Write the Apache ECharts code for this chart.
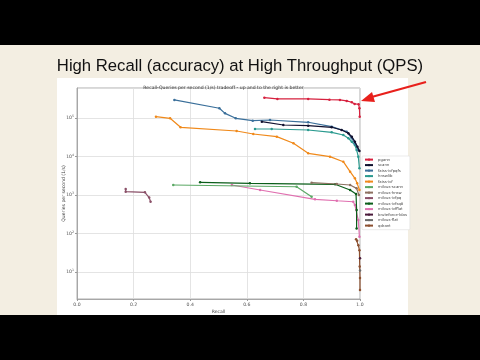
<!DOCTYPE html>
<html>
<head>
<meta charset="utf-8">
<script src="https://cdn.jsdelivr.net/npm/echarts@6/dist/echarts.min.js"></script>
<style>
  html, body { margin: 0; padding: 0; background: #000; }
  #chart { width: 480px; height: 360px; }
</style>
</head>
<body>
<div id="chart"></div>
<script>
// [recall, queries per second]
const pgann = [[0.662, 336000], [0.708, 312000], [0.817, 312000], [0.892, 299000], [0.929, 294000],
  [0.953, 277000], [0.971, 256000], [0.981, 231000], [0.995, 227000], [0.998, 179000], [0.999, 108000]];
const scann = [[0.653, 80200], [0.729, 65800], [0.817, 63100], [0.900, 57300], [0.935, 48700],
  [0.959, 40100], [0.971, 32700], [0.982, 24300], [0.991, 18000], [0.998, 13900]];
const faissIvfpqfs = [[0.344, 294000], [0.503, 179000], [0.523, 132000], [0.561, 98200], [0.621, 85100],
  [0.682, 88700], [0.817, 77300], [0.900, 59400], [0.953, 44100], [0.971, 29700], [0.982, 22000], [0.994, 14800]];
const hnswlib = [[0.629, 51800], [0.688, 51800], [0.817, 48800], [0.900, 42500], [0.941, 36200],
  [0.959, 29700], [0.971, 24200], [0.982, 19900], [0.988, 14800], [0.994, 9890], [0.998, 4940]];
const faissIvf = [[0.279, 108000], [0.329, 98200], [0.366, 57300], [0.564, 45900], [0.623, 38400],
  [0.706, 32700], [0.765, 22000], [0.817, 12100], [0.894, 9890], [0.941, 7330], [0.965, 4030],
  [0.982, 2710], [0.990, 2010], [0.998, 1350]];
const milvusScann = [[0.340, 1820], [0.776, 1640], [0.829, 904]];
const milvusHnsw = [[0.829, 2090], [0.918, 1930], [0.965, 1820], [0.988, 1490], [0.996, 1000]];
const milvusIvfpq = [[0.172, 1430], [0.172, 1220], [0.240, 1175], [0.255, 861], [0.260, 670]];
const milvusIvfsq8 = [[0.435, 2140], [0.611, 2010], [0.912, 1900], [0.965, 1350], [0.986, 1060],
  [0.988, 407], [0.988, 136]];
const milvusIvfflat = [[0.547, 1820], [0.647, 1350], [0.841, 773], [0.918, 711], [0.976, 670],
  [0.982, 550], [0.994, 224], [0.998, 83]];
const bruteforceBlas = [[1.0, 23]];
const milvusFlat = [[1.0, 11]];
const qdrant = [[0.986, 71], [0.990, 65], [0.994, 50], [0.998, 37], [0.999, 14], [1.0, 7], [1.0, 3.4]];

const names = ['pgann', 'scann', 'faiss-ivfpqfs', 'hnswlib', 'faiss-ivf', 'milvus-scann', 'milvus-hnsw',
  'milvus-ivfpq', 'milvus-ivfsq8', 'milvus-ivfflat', 'bruteforce-blas', 'milvus-flat', 'qdrant'];
const datasets = [pgann, scann, faissIvfpqfs, hnswlib, faissIvf, milvusScann, milvusHnsw,
  milvusIvfpq, milvusIvfsq8, milvusIvfflat, bruteforceBlas, milvusFlat, qdrant];
const colors = ['#d6203e', '#10102e', '#3a6f9a', '#2a9a8f', '#f0891a', '#5aa864', '#8c7060',
  '#8a5068', '#0b5e1a', '#e070b0', '#4a1a3a', '#6a6a6a', '#8c5030'];
const xTicks = [0, 0.2, 0.4, 0.6, 0.8, 1.0];

const chart = echarts.init(document.getElementById('chart'));

const series = names.map((name, i) => ({
  name: name,
  type: 'line',
  data: datasets[i],
  symbol: 'circle',
  symbolSize: 2.5,
  color: colors[i],
  lineStyle: { width: 1.2 },
  emphasis: { disabled: true },
  z: 10 + (names.length - i)
}));

const option = {
  animation: false,
  backgroundColor: '#f3eee2',
  textStyle: { fontFamily: 'DejaVu Sans' },
  graphic: [
    { type: 'rect', z: -10, shape: { x: 0, y: 0, width: 480, height: 45 }, style: { fill: '#000' } },
    { type: 'rect', z: -10, shape: { x: 0, y: 315, width: 480, height: 45 }, style: { fill: '#000' } },
    { type: 'rect', z: -9, shape: { x: 57, y: 78, width: 351, height: 237 }, style: { fill: '#fff' } },
    { type: 'line', z: 100, shape: { x1: 426, y1: 82, x2: 368, y2: 98 }, style: { stroke: '#e8201c', lineWidth: 2.2 } },
    { type: 'polygon', z: 100, shape: { points: [[361, 101], [372, 92], [375, 102]] }, style: { fill: '#e8201c' } }
  ],
  title: [
    {
      text: 'High Recall (accuracy) at High Throughput (QPS)',
      left: 'center', top: 53,
      textStyle: { fontFamily: 'Liberation Sans', fontSize: 16.7, fontWeight: 'normal', color: '#111' }
    },
    {
      text: 'Recall-Queries per second (1/s) tradeoff - up and to the right is better',
      left: 218.5, textAlign: 'center', top: 80,
      textStyle: { fontSize: 4.6, fontWeight: 'normal', color: '#333' }
    }
  ],
  legend: {
    orient: 'vertical',
    left: 362, top: 156,
    data: names,
    itemWidth: 8, itemHeight: 3, itemGap: 1.3,
    padding: [1.5, 3, 2, 2],
    backgroundColor: '#fff',
    borderColor: '#ddd', borderWidth: 0.6, borderRadius: 1,
    textStyle: { fontSize: 3.8, color: '#444', lineHeight: 4.2 }
  },
  grid: {
    left: 77, right: 120, top: 88, bottom: 61,
    show: true, borderColor: '#999', borderWidth: 0.8
  },
  xAxis: {
    type: 'value',
    min: 0, max: 1, interval: 0.2,
    name: 'Recall', nameLocation: 'middle', nameGap: 10,
    nameMoveOverlap: false,
    nameTextStyle: { fontSize: 4.6, color: '#444' },
    axisLine: { lineStyle: { color: '#999', width: 0.8 } },
    axisTick: { length: 2, lineStyle: { color: '#999' } },
    axisLabel: { fontSize: 4.6, color: '#555', margin: 3,
      formatter: v => xTicks.some(t => Math.abs(t - v) < 1e-9) ? v.toFixed(1) : '' },
    splitLine: { show: true, lineStyle: { color: '#ddd', width: 0.8 } }
  },
  yAxis: {
    type: 'log', logBase: 10,
    min: 2, max: 600000,
    name: 'Queries per second (1/s)', nameLocation: 'middle', nameGap: 11,
    nameMoveOverlap: false,
    nameTextStyle: { fontSize: 4.6, color: '#444' },
    axisLine: { show: true, lineStyle: { color: '#999', width: 0.8 } },
    axisTick: { show: true, length: 2, lineStyle: { color: '#999' } },
    axisLabel: {
      fontSize: 4.6, color: '#555', margin: 3,
      showMinLabel: false, showMaxLabel: false,
      formatter: v => {
        const e = Math.log10(v);
        if (Math.abs(e - Math.round(e)) > 1e-6) return '';
        return '{b|10}{s|' + Math.round(e) + '}';
      },
      rich: {
        b: { fontSize: 4.6, color: '#555' },
        s: { fontSize: 3.2, color: '#555', padding: [0, 0, 3, 0] }
      }
    },
    splitLine: { show: true, lineStyle: { color: '#ddd', width: 0.8 } }
  },
  series: series
};

chart.setOption(option);
</script>
</body>
</html>
